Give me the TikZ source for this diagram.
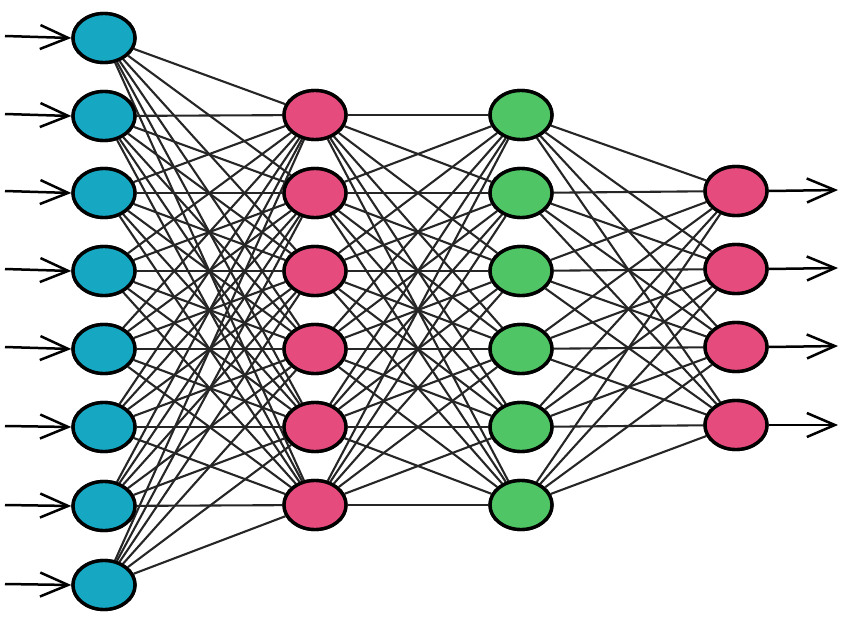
\documentclass[tikz,border=0pt]{standalone}
\usetikzlibrary{arrows.meta,shapes.geometric}
\definecolor{inblue}{HTML}{16A8C2}
\definecolor{hpink}{HTML}{E64B7E}
\definecolor{hgreen}{HTML}{50C565}
\definecolor{edgegray}{HTML}{262626}
\begin{document}
\begin{tikzpicture}[x=1pt,y=-1pt,
  neuron/.style={ellipse,draw=black,line width=3.4pt,minimum width=62pt,minimum height=49pt,inner sep=0pt},
  link/.style={draw=edgegray,line width=2.1pt},
  io/.style={draw=black,line width=2.5pt,-{Straight Barb[length=28pt,width=24pt,line width=2.5pt]}}]
\useasboundingbox (0,0) rectangle (865,618);
% nodes
\foreach \i/\y in {1/38,2/116,3/193,4/271,5/349,6/427,7/506,8/585}
  \node[neuron,fill=inblue] (a\i) at (104,\y) {};
\foreach \i/\y in {1/115,2/193,3/271,4/349,5/427,6/505}{
  \node[neuron,fill=hpink] (b\i) at (315,\y) {};
  \node[neuron,fill=hgreen] (c\i) at (521,\y) {};}
\foreach \i/\y in {1/191,2/269,3/347,4/425}
  \node[neuron,fill=hpink] (d\i) at (736,\y) {};
% edges
\foreach \i in {1,...,8}
  \foreach \j in {1,...,6}
    \draw[link] (a\i) -- (b\j);
\foreach \i in {1,...,6}
  \foreach \j in {1,...,6}
    \draw[link] (b\i) -- (c\j);
\foreach \i in {1,...,6}
  \foreach \j in {1,...,4}
    \draw[link] (c\i) -- (d\j);
% redraw nodes on top
\foreach \i in {1,...,8}
  \node[neuron,fill=inblue] at (a\i) {};
\foreach \i in {1,...,6}{
  \node[neuron,fill=hpink] at (b\i) {};
  \node[neuron,fill=hgreen] at (c\i) {};}
\foreach \i in {1,...,4}
  \node[neuron,fill=hpink] at (d\i) {};
% input and output arrows
\foreach \i/\y in {1/36,2/114,3/191,4/269,5/347,6/426,7/505,8/584}{
  \coordinate (in\i) at (5,\y);
  \draw[io] (in\i) -- (a\i.west);}
\foreach \i/\y in {1/190,2/268,3/346,4/425}{
  \coordinate (out\i) at (838,\y);
  \draw[io] (d\i.east) -- (out\i);}
\end{tikzpicture}
\end{document}
